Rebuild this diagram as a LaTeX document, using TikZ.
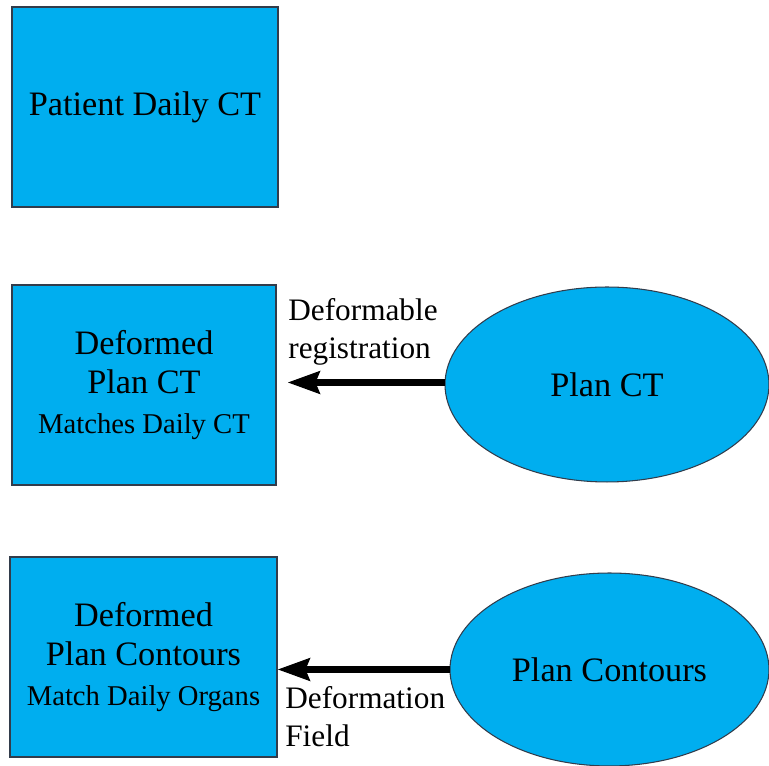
\documentclass[tikz,border=0pt]{standalone}
\usepackage{fontspec}
\setmainfont{Liberation Serif}
\usepackage{xcolor}
\usetikzlibrary{shapes.geometric}
\usetikzlibrary{arrows.meta}
\definecolor{boxblue}{RGB}{0,174,239}
\definecolor{edgegray}{RGB}{50,60,75}
\newcommand{\bigtxt}{\fontsize{19.5}{22.5}\selectfont}
\newcommand{\smalltxt}{\fontsize{16.3}{22.5}\selectfont}
\newcommand{\labtxt}{\fontsize{17.8}{21.5}\selectfont}
\begin{document}
\begin{tikzpicture}[x=0.02cm,y=-0.02cm,
    databox/.style={draw=edgegray,line width=0.6pt,fill=boxblue,minimum width=5.32cm,minimum height=4cm,inner sep=0pt,align=center,font=\bigtxt},
    dataoval/.style={draw=edgegray,line width=0.6pt,fill=boxblue,ellipse,inner sep=0pt,font=\bigtxt},
    flow/.style={line width=3.8pt,-{Stealth[length=0.64cm,width=0.44cm,inset=0.08cm]}},
    flowlabel/.style={anchor=north west,inner sep=0pt,align=left,font=\labtxt}]
    \useasboundingbox (0,0) rectangle (769,766);
    % left column
    \node[databox] (daily) at (145,107) {Patient Daily CT};
    \node[databox,minimum width=5.28cm] (defct) at (144,385) {Deformed\\Plan CT\\{\smalltxt Matches Daily CT}};
    \node[databox,minimum width=5.34cm] (defcont) at (143.5,657) {Deformed\\Plan Contours\\{\smalltxt Match Daily Organs}};
    % right column
    \node[dataoval,minimum width=6.48cm,minimum height=3.9cm] (planct) at (607,384.5) {Plan CT};
    \node[dataoval,minimum width=6.38cm,minimum height=3.86cm] (plancont) at (609.5,669.5) {Plan Contours};
    % deformations
    \draw[flow,shorten >=0.22cm] ([yshift=0.04cm]planct.west) -- ([yshift=0.04cm]planct.west -| defct.east);
    \draw[flow] (plancont) -- (plancont -| defcont.east);
    \node[flowlabel] (reglab) at (288,298) {Deformable\\registration};
    \node[flowlabel] (fieldlab) at (285,686) {Deformation\\Field};
\end{tikzpicture}
\end{document}
